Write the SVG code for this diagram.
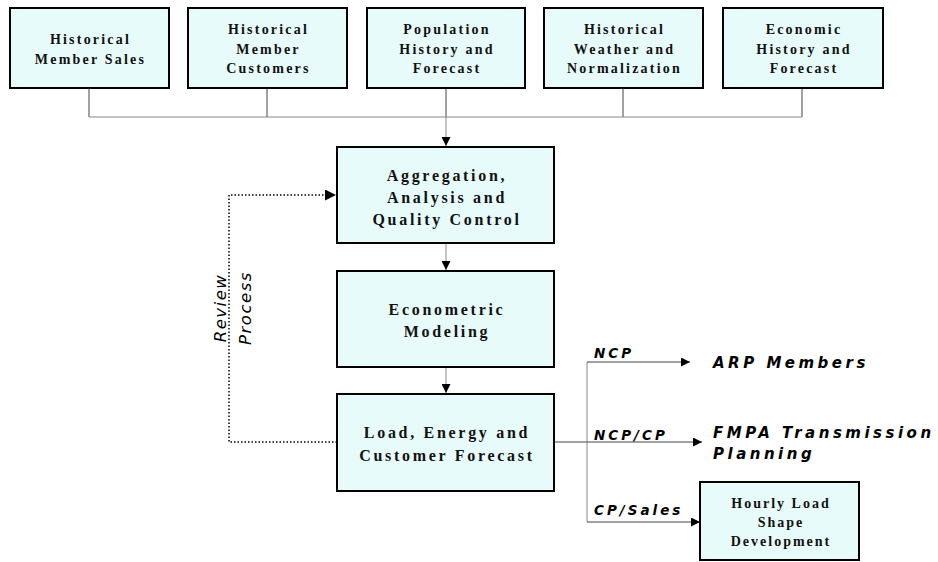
<svg xmlns="http://www.w3.org/2000/svg" width="938" height="562" viewBox="0 0 938 562">
<style>
.box{fill:#E8FBFB;stroke:#000;stroke-width:2}
.t{font-family:"Liberation Serif","Times New Roman",serif;font-weight:bold;font-size:14px;letter-spacing:2.2px;text-anchor:middle;fill:#111}
.tb{font-family:"Liberation Serif","Times New Roman",serif;font-weight:bold;font-size:16px;letter-spacing:2.7px;text-anchor:middle;fill:#111}
.th{font-family:"Liberation Serif","Times New Roman",serif;font-weight:bold;font-size:14px;letter-spacing:2px;text-anchor:middle;fill:#111}
.lbl{font-family:"DejaVu Sans",Verdana,sans-serif;font-weight:bold;font-style:italic;font-size:13.5px;letter-spacing:3px;fill:#000}
.dst{font-family:"DejaVu Sans",Verdana,sans-serif;font-weight:bold;font-style:italic;font-size:15px;letter-spacing:3.5px;fill:#000}
.rv{font-family:"DejaVu Sans",Verdana,sans-serif;font-style:italic;font-size:16.5px;letter-spacing:1.5px;text-anchor:middle;fill:#000}
.c{fill:none;stroke:#444;stroke-width:1}
.cg{fill:none;stroke:#888;stroke-width:1}
.dot{fill:none;stroke:#000;stroke-width:1.5;stroke-dasharray:1.5 2}
</style>
<defs>
<marker id="ah" viewBox="0 0 10 10" refX="10" refY="5" markerWidth="11" markerHeight="9" markerUnits="userSpaceOnUse" orient="auto"><path d="M0,0L10,5L0,10z" fill="#000"/></marker>
<marker id="ahd" viewBox="0 0 10 10" refX="10" refY="5" markerWidth="15" markerHeight="11" markerUnits="userSpaceOnUse" orient="auto"><path d="M0,0L10,5L0,10z" fill="#000"/></marker>
</defs>

<g id="connectors">
<path class="c" d="M89,88V117M267,88V117M446,88V117M623,88V117M802,88V117"/>
<path class="cg" d="M89,117H802"/>
<path class="cg" d="M446,117V146" marker-end="url(#ah)"/>
<path class="cg" d="M446,243V270" marker-end="url(#ah)"/>
<path class="cg" d="M446,367V393" marker-end="url(#ah)"/>
<path class="dot" d="M337,442H229V195H336" marker-end="url(#ahd)"/>
<path class="c" stroke="#000" d="M554,442H587"/>
<path class="cg" d="M587,362V522"/>
<path class="c" d="M587,362H690" marker-end="url(#ah)"/>
<path class="c" d="M587,442H702" marker-end="url(#ah)"/>
<path class="c" d="M587,522H700" marker-end="url(#ah)"/>
</g>

<g id="hist-sales">
<rect class="box" x="10" y="8" width="159" height="80"/>
<text class="t" x="90.5" y="44">Historical</text>
<text class="t" x="90.5" y="63.5">Member Sales</text>
</g>
<g id="hist-customers">
<rect class="box" x="188" y="8" width="159" height="80"/>
<text class="t" x="268.5" y="34">Historical</text>
<text class="t" x="268.5" y="53.5">Member</text>
<text class="t" x="268.5" y="73">Customers</text>
</g>
<g id="population">
<rect class="box" x="367" y="8" width="158" height="80"/>
<text class="t" x="447" y="34">Population</text>
<text class="t" x="447" y="53.5">History and</text>
<text class="t" x="447" y="73">Forecast</text>
</g>
<g id="weather">
<rect class="box" x="544" y="8" width="159" height="80"/>
<text class="t" x="624.5" y="34">Historical</text>
<text class="t" x="624.5" y="53.5">Weather and</text>
<text class="t" x="624.5" y="73">Normalization</text>
</g>
<g id="economic">
<rect class="box" x="723" y="8" width="160" height="80"/>
<text class="t" x="804" y="34">Economic</text>
<text class="t" x="804" y="53.5">History and</text>
<text class="t" x="804" y="73">Forecast</text>
</g>

<g id="aggregation">
<rect class="box" x="337" y="147" width="217" height="96"/>
<text class="tb" x="447" y="181">Aggregation,</text>
<text class="tb" x="447" y="203">Analysis and</text>
<text class="tb" x="447" y="225">Quality Control</text>
</g>
<g id="econometric">
<rect class="box" x="337" y="271" width="217" height="96"/>
<text class="tb" x="447" y="315">Econometric</text>
<text class="tb" x="447" y="337">Modeling</text>
</g>
<g id="load-forecast">
<rect class="box" x="337" y="394" width="217" height="97"/>
<text class="tb" x="447" y="438">Load, Energy and</text>
<text class="tb" x="447" y="461">Customer Forecast</text>
</g>

<g id="review-label">
<text class="rv" transform="rotate(-90 226 308)" x="226" y="308">Review</text>
<text class="rv" transform="rotate(-90 251 308)" x="251" y="308">Process</text>
</g>

<g id="labels">
<text class="lbl" x="594" y="358">NCP</text>
<text class="lbl" x="594" y="440">NCP/CP</text>
<text class="lbl" x="594" y="515">CP/Sales</text>
</g>

<g id="arp-members">
<text class="dst" x="713" y="368">ARP Members</text>
</g>
<g id="fmpa">
<text class="dst" x="713" y="438">FMPA Transmission</text>
<text class="dst" x="713" y="459">Planning</text>
</g>
<g id="hourly">
<rect class="box" x="700" y="482" width="159" height="78"/>
<text class="th" x="781" y="508">Hourly Load</text>
<text class="th" x="781" y="527">Shape</text>
<text class="th" x="781" y="545.5">Development</text>
</g>
</svg>
